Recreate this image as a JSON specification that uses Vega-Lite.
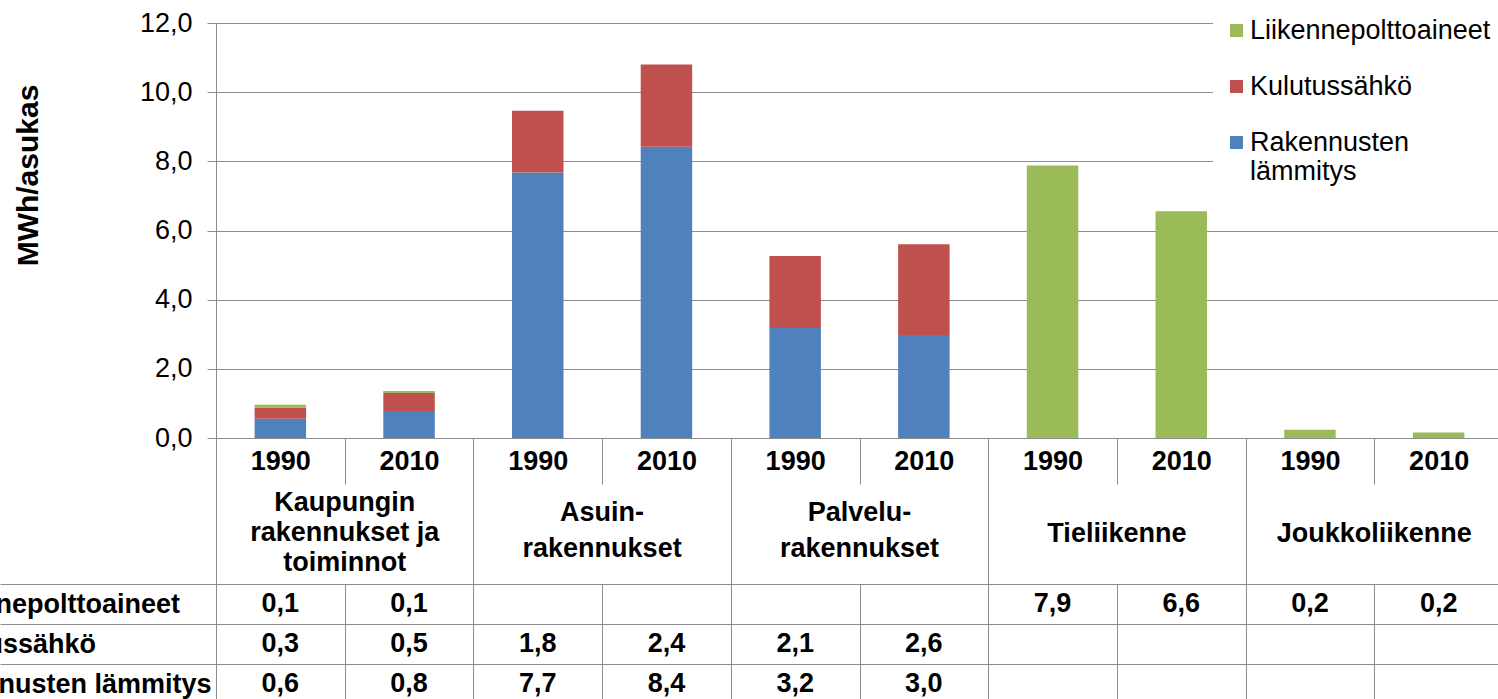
{
  "$schema": "https://vega.github.io/schema/vega-lite/v6.json",
  "autosize": {"type": "pad"},
  "padding": {"left": -83, "top": 7, "right": 0, "bottom": 0},
  "background": "white",
  "datasets": {
    "vals": [
      {"c": "K 1990", "g": "K", "s": "Rakennusten lämmitys", "v": 0.56},
      {"c": "K 1990", "g": "K", "s": "Kulutussähkö", "v": 0.32},
      {"c": "K 1990", "g": "K", "s": "Liikennepolttoaineet", "v": 0.08},
      {"c": "K 2010", "g": "K", "s": "Rakennusten lämmitys", "v": 0.78},
      {"c": "K 2010", "g": "K", "s": "Kulutussähkö", "v": 0.52},
      {"c": "K 2010", "g": "K", "s": "Liikennepolttoaineet", "v": 0.06},
      {"c": "A 1990", "g": "A", "s": "Rakennusten lämmitys", "v": 7.68},
      {"c": "A 1990", "g": "A", "s": "Kulutussähkö", "v": 1.78},
      {"c": "A 2010", "g": "A", "s": "Rakennusten lämmitys", "v": 8.42},
      {"c": "A 2010", "g": "A", "s": "Kulutussähkö", "v": 2.38},
      {"c": "P 1990", "g": "P", "s": "Rakennusten lämmitys", "v": 3.18},
      {"c": "P 1990", "g": "P", "s": "Kulutussähkö", "v": 2.08},
      {"c": "P 2010", "g": "P", "s": "Rakennusten lämmitys", "v": 2.98},
      {"c": "P 2010", "g": "P", "s": "Kulutussähkö", "v": 2.62},
      {"c": "T 1990", "g": "T", "s": "Liikennepolttoaineet", "v": 7.88},
      {"c": "T 2010", "g": "T", "s": "Liikennepolttoaineet", "v": 6.56},
      {"c": "J 1990", "g": "J", "s": "Liikennepolttoaineet", "v": 0.24},
      {"c": "J 2010", "g": "J", "s": "Liikennepolttoaineet", "v": 0.16}
    ],
    "groups": [
      {"g": "K", "t": "Kaupungin\nrakennukset  ja\ntoiminnot"},
      {"g": "A", "t": "Asuin-\nrakennukset"},
      {"g": "P", "t": "Palvelu-\nrakennukset"},
      {"g": "T", "t": "Tieliikenne"},
      {"g": "J", "t": "Joukkoliikenne"}
    ]
  },
  "spacing": 0,
  "bounds": "flush",
  "vconcat": [
    {
      "width": 1287,
      "height": 415,
      "data": {"name": "vals"},
      "transform": [
        {"calculate": "indexof(['Rakennusten lämmitys', 'Kulutussähkö', 'Liikennepolttoaineet'], datum.s)", "as": "rank"}
      ],
      "mark": {"type": "bar", "width": {"band": 0.4}},
      "encoding": {
        "x": {
          "field": "c", "type": "nominal", "sort": null,
          "scale": {"paddingInner": 0, "paddingOuter": 0},
          "axis": {
            "title": null, "labelExpr": "split(datum.label, ' ')[1]", "labelAngle": 0,
            "labelFontSize": 27, "labelFontWeight": "bold", "labelColor": "black",
            "labelBaseline": "alphabetic", "labelPadding": -15,
            "tickBand": "extent", "tickSize": 46, "tickColor": "#8c8c8c", "domainColor": "#8c8c8c", "grid": false
          }
        },
        "y": {
          "field": "v", "type": "quantitative", "stack": "zero",
          "scale": {"domain": [0, 12], "nice": false},
          "axis": {
            "title": "MWh/asukas", "titleFontSize": 30, "titleFontWeight": "bold", "titleColor": "black",
            "titleAngle": -90, "titleX": -188, "titleY": 152, "titleAlign": "center", "titleBaseline": "middle",
            "values": [0, 2, 4, 6, 8, 10, 12], "format": ".1f",
            "labelFontSize": 27, "labelColor": "black", "labelPadding": 15,
            "tickSize": 9, "tickColor": "#8c8c8c", "domainColor": "#8c8c8c",
            "grid": true, "gridColor": "#8c8c8c"
          }
        },
        "order": {"field": "rank", "type": "quantitative"},
        "color": {
          "field": "s", "type": "nominal",
          "sort": ["Rakennusten lämmitys", "Kulutussähkö", "Liikennepolttoaineet"],
          "scale": {"range": ["#4F81BD", "#C0504D", "#9BBB59"]},
          "legend": {
            "title": null, "orient": "none", "legendX": 997, "legendY": -16,
            "values": ["Liikennepolttoaineet", "Kulutussähkö", "Rakennusten lämmitys"],
            "labelExpr": "datum.label === 'Rakennusten lämmitys' ? ['Rakennusten', 'lämmitys'] : datum.label",
            "symbolType": "square", "symbolSize": 169, "symbolStrokeWidth": 0,
            "labelFontSize": 27, "labelColor": "black", "labelLimit": 500, "labelOffset": 0,
            "rowPadding": 28, "padding": 10, "fillColor": "white"
          }
        }
      }
    },
    {
      "width": 1287,
      "height": 146,
      "data": {"name": "groups"},
      "encoding": {
        "x": {
          "field": "g", "type": "nominal", "sort": null,
          "scale": {"paddingInner": 0, "paddingOuter": 0},
          "axis": {"title": null, "orient": "top", "labels": false, "ticks": false, "domain": false, "grid": true, "tickBand": "extent", "gridColor": "#8c8c8c"}
        },
        "text": {"field": "t"}
      },
      "layer": [
        {
          "transform": [{"filter": "datum.g == 'K'"}],
          "mark": {"type": "text", "lineBreak": "\n", "fontSize": 27, "fontWeight": "bold", "color": "black", "baseline": "middle", "lineHeight": 30, "dy": -8}
        },
        {
          "transform": [{"filter": "datum.g == 'A' || datum.g == 'P'"}],
          "mark": {"type": "text", "lineBreak": "\n", "fontSize": 27, "fontWeight": "bold", "color": "black", "baseline": "middle", "lineHeight": 36, "dy": 2}
        },
        {
          "transform": [{"filter": "datum.g == 'T' || datum.g == 'J'"}],
          "mark": {"type": "text", "fontSize": 27, "fontWeight": "bold", "color": "black", "baseline": "middle", "dy": 23}
        }
      ]
    },
    {
      "width": 1287,
      "height": 120,
      "data": {"name": "vals"},
      "mark": {"type": "text", "fontSize": 27, "fontWeight": "bold", "color": "black", "baseline": "middle"},
      "encoding": {
        "x": {
          "field": "c", "type": "nominal", "sort": null,
          "scale": {"paddingInner": 0, "paddingOuter": 0},
          "axis": {"title": null, "orient": "top", "labels": false, "ticks": false, "domain": false, "grid": true, "tickBand": "extent", "gridColor": "#8c8c8c"}
        },
        "y": {
          "field": "s", "type": "nominal",
          "scale": {"domain": ["Liikennepolttoaineet", "Kulutussähkö", "Rakennusten lämmitys"], "paddingInner": 0, "paddingOuter": 0},
          "axis": {
            "title": null, "tickBand": "extent", "tickSize": 216, "tickColor": "#8c8c8c", "domainColor": "#8c8c8c",
            "grid": true, "gridColor": "#8c8c8c",
            "labelFontSize": 27, "labelFontWeight": "bold", "labelColor": "black", "labelAlign": "left", "labelPadding": 83, "labelLimit": 500
          }
        },
        "text": {"field": "v", "type": "quantitative", "format": ".1f"}
      }
    }
  ],
  "resolve": {"scale": {"x": "independent", "y": "independent", "color": "independent"}},
  "config": {
    "view": {"stroke": null},
    "font": "Liberation Sans",
    "locale": {"number": {"decimal": ",", "thousands": " ", "grouping": [3], "currency": ["", " €"]}},
    "axis": {"labelFont": "Liberation Sans", "titleFont": "Liberation Sans"},
    "legend": {"labelFont": "Liberation Sans"},
    "text": {"font": "Liberation Sans"}
  }
}
